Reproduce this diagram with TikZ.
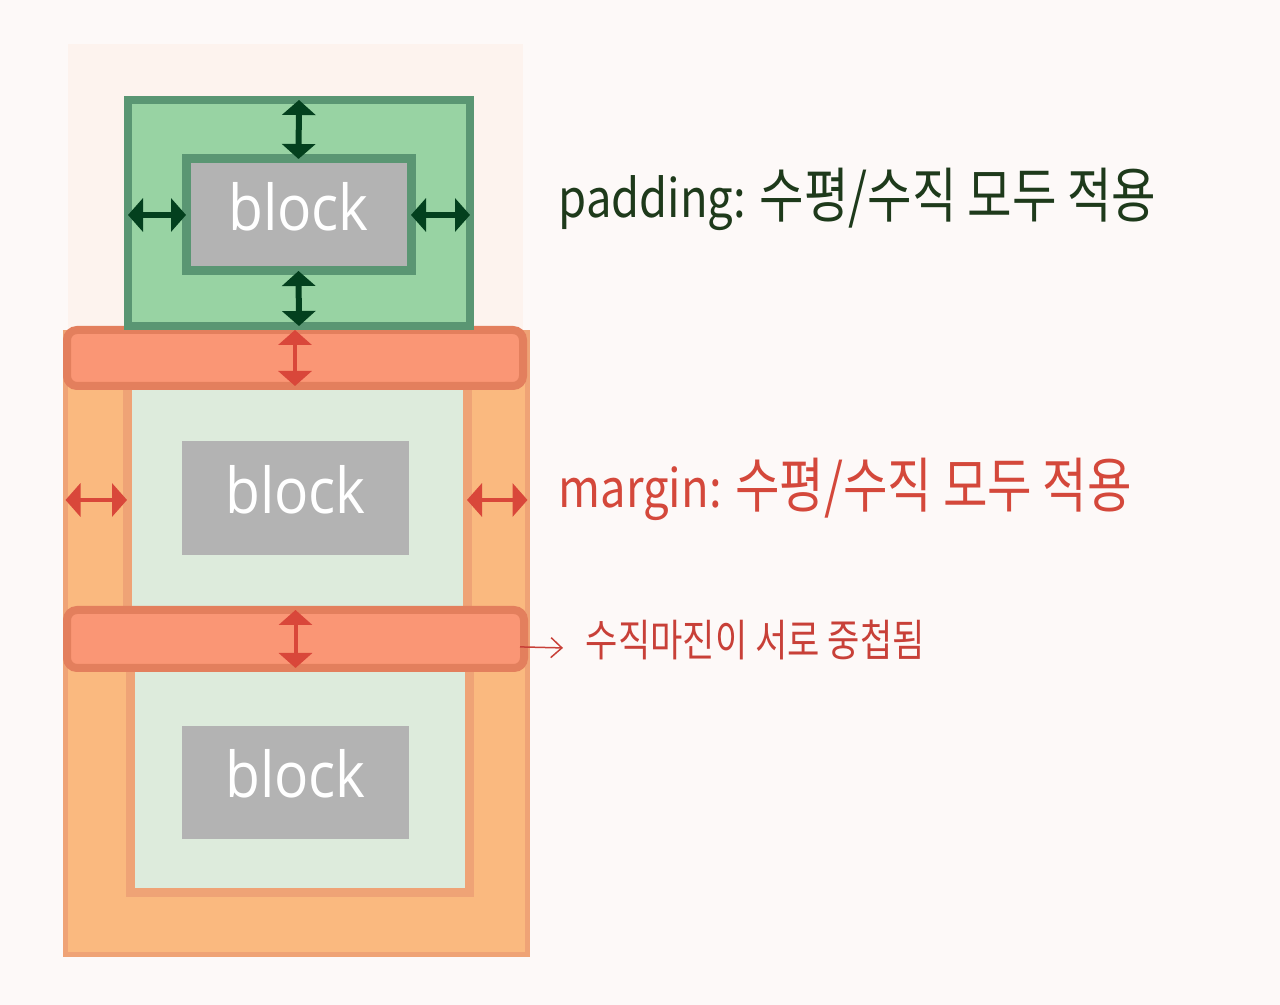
\documentclass[tikz,border=0pt]{standalone}
\usepackage{fontspec}
\usepackage{tikz}
\usetikzlibrary{arrows.meta}
\newfontfamily\cjkfont[FakeStretch=0.86]{Noto Sans CJK KR}
\newfontfamily\cjkbigfont[FakeStretch=0.81]{Noto Sans CJK KR}
\newfontfamily\cjknotefont[FakeStretch=0.8]{Noto Sans CJK KR}
\newfontfamily\blockfont[FakeStretch=0.9]{Open Sans}
\newcommand\kortext[1]{{\cjkbigfont\fontsize{17pt}{18pt}\selectfont#1}}
\definecolor{pagebg}{HTML}{FDF9F8}
\definecolor{peach}{HTML}{FDF3EE}
\definecolor{padfill}{HTML}{98D3A3}
\definecolor{padline}{HTML}{5A9673}
\definecolor{padarrow}{HTML}{03401E}
\definecolor{padtext}{HTML}{1E3A1B}
\definecolor{blockgray}{HTML}{B3B3B3}
\definecolor{marginfill}{HTML}{FAB97F}
\definecolor{marginline}{HTML}{EFA376}
\definecolor{barfill}{HTML}{FA9675}
\definecolor{barline}{HTML}{E37F5D}
\definecolor{contentfill}{HTML}{DDEBDC}
\definecolor{marginred}{HTML}{D9473A}
\definecolor{margintext}{HTML}{D4483B}
\definecolor{notered}{HTML}{C84038}
\tikzset{
  boxnode/.style={rectangle,inner sep=0pt,outer sep=0pt},
  blockbox/.style={boxnode,fill=blockgray,text=white,text depth=5pt,font=\blockfont\fontsize{18pt}{20pt}\selectfont},
  padbox/.style={boxnode,draw=padline,line width=0.8mm,fill=padfill},
  marginbox/.style={boxnode,draw=marginline,line width=0.5mm,fill=marginfill},
  contentbox/.style={boxnode,draw=marginline,line width=0.9mm,fill=contentfill},
  marginbar/.style={boxnode,draw=barline,line width=0.8mm,fill=barfill,rounded corners=1mm},
  padarrowline/.style={padarrow,line width=0.6mm,{Triangle[width=3.3mm,length=1.5mm]}-{Triangle[width=3.3mm,length=1.5mm]}},
  marginarrowline/.style={marginred,line width=0.4mm,{Triangle[width=3.3mm,length=1.5mm]}-{Triangle[width=3.3mm,length=1.5mm]}},
  notearrow/.style={notered,line width=0.15mm,-{Straight Barb[length=1.1mm,width=2mm]}},
  bigtext/.style={anchor=base west,inner sep=0pt,font=\cjkfont\fontsize{15pt}{18pt}\selectfont},
  notetext/.style={anchor=base west,inner sep=0pt,font=\cjknotefont\fontsize{12.5pt}{14pt}\selectfont,text=notered}
}
\begin{document}
\begin{tikzpicture}[x=0.1mm,y=-0.1mm]
\fill[pagebg](0,0)rectangle(1280,1005);
\useasboundingbox(0,0)rectangle(1280,1005);
\fill[peach](68,44)rectangle(523,330);

% margin side
\node[marginbox,minimum width=46.2mm,minimum height=62.2mm](marginbox)at(296.5,643.5){};
\node[contentbox,minimum width=34mm,minimum height=23mm](content1)at(297,500){};
\node[contentbox,minimum width=33.9mm,minimum height=22.75mm](content2)at(299.5,778.75){};
\node[blockbox,minimum width=22.7mm,minimum height=11.4mm](block2)at(295.5,498){block};
\node[blockbox,minimum width=22.7mm,minimum height=11.3mm](block3)at(295.5,782.5){block};
\node[marginbar,minimum width=45.6mm,minimum height=5.6mm](bartop)at(295,358){};
\node[marginbar,minimum width=45.7mm,minimum height=5.8mm](barmid)at(295.5,639){};

% padding side
\node[padbox,minimum width=34.2mm,minimum height=22.6mm](padbox)at(299,213){};
\node[boxnode,draw=padline,line width=0.9mm,blockbox,minimum width=22.5mm,minimum height=11.2mm](block1)at(298.5,215){block};

\draw[padarrowline](padbox.north)--(block1.north);
\draw[padarrowline](block1.south)--(padbox.south);
\draw[padarrowline](block1.west-|padbox.west)--(block1.west);
\draw[padarrowline](block1.east)--(block1.east-|padbox.east);

\draw[marginarrowline](bartop.north)--(bartop.south);
\draw[marginarrowline](barmid.north)--(barmid.south);
\draw[marginarrowline](content1.west-|marginbox.west)--(content1.west);
\draw[marginarrowline](content1.east)--(content1.east-|marginbox.east);

\node[bigtext,text=padtext](padlabel)at(558,218){padding: \kortext{수평/수직 모두 적용}};
\node[bigtext,text=margintext](marginlabel)at(558,508){margin: \kortext{수평/수직 모두 적용}};
\node[notetext](note)at(585,657){수직마진이 서로 중첩됨};
\draw[notearrow,shorten <=-0.4mm,shorten >=2.2mm]([yshift=-0.8mm]barmid.east)--([yshift=-0.8mm]note.west);

\end{tikzpicture}
\end{document}
